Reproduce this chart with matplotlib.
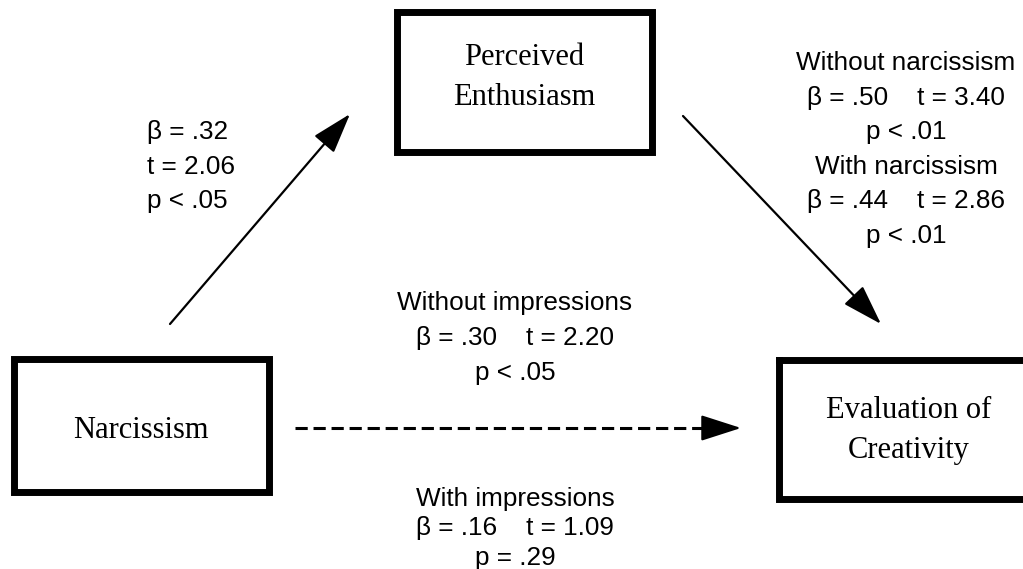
import matplotlib.pyplot as plt
from matplotlib.patches import Rectangle

# Box labels (variables of the mediation model)
mediator_label = ['Perceived', 'Enthusiasm']
predictor_label = ['Narcissism']
outcome_label = ['Evaluation of', 'Creativity']

# Path a: narcissism -> enthusiasm
path_a = ['β = .32', 't = 2.06', 'p < .05']
# Path b: enthusiasm -> evaluation (without / with narcissism)
path_b = ['Without narcissism', 'β = .50    t = 3.40', 'p < .01',
          'With narcissism', 'β = .44    t = 2.86', 'p < .01']
# Path c: narcissism -> evaluation (without / with impressions)
path_c_top = ['Without impressions', 'β = .30    t = 2.20', 'p < .05']
path_c_bottom = ['With impressions', 'β = .16    t = 1.09', 'p = .29']

W, H = 1023, 569
fig = plt.figure(figsize=(W / 100, H / 100), dpi=100)
ax = fig.add_axes([0, 0, 1, 1])
ax.set_xlim(0, W)
ax.set_ylim(H, 0)
ax.axis('off')

serif = 'Liberation Serif'
sans = 'Liberation Sans'
box_lw = 5

# boxes (pixel coords, border centre lines)
def box(x, y, w, h):
    ax.add_patch(Rectangle((x, y), w, h, fill=False, lw=box_lw, ec='black',
                           joinstyle='miter', capstyle='projecting'))

box(396.5, 11.5, 255, 140)
box(13.5, 358.5, 255, 133)
box(778.5, 359.5, 270, 139)

def stack(lines, x, y0, dy, family, size, ha='center'):
    for i, s in enumerate(lines):
        ax.text(x, y0 + i * dy, s, family=family, fontsize=size, ha=ha, va='center')

stack(mediator_label, 524, 57, 40, serif, 22)
stack(predictor_label, 141, 430, 40, serif, 22)
stack(outcome_label, 909, 410, 40, serif, 22)

stack(path_a, 147, 132, 34.5, sans, 18.8, ha='left')
stack(path_b, 906, 63, 34.5, sans, 18.8)
stack(path_c_top, 515, 303, 35, sans, 18.8)
stack(path_c_bottom, 515, 499, 29.5, sans, 18.8)

arrow = dict(arrowstyle='-|>,head_length=1.4,head_width=0.45', lw=1.6, color='black',
             mutation_scale=18, shrinkA=0, shrinkB=0)
ax.annotate('', xy=(350, 114), xytext=(170, 324), arrowprops=arrow)
ax.annotate('', xy=(881, 324), xytext=(683, 116), arrowprops=arrow)

# dashed direct path
ax.plot([295, 716], [428, 428], color='black', lw=2.2, dashes=(4.0, 1.9))
ax.annotate('', xy=(741, 428), xytext=(712, 428), arrowprops=arrow)

fig.savefig('out.png', dpi=100)
